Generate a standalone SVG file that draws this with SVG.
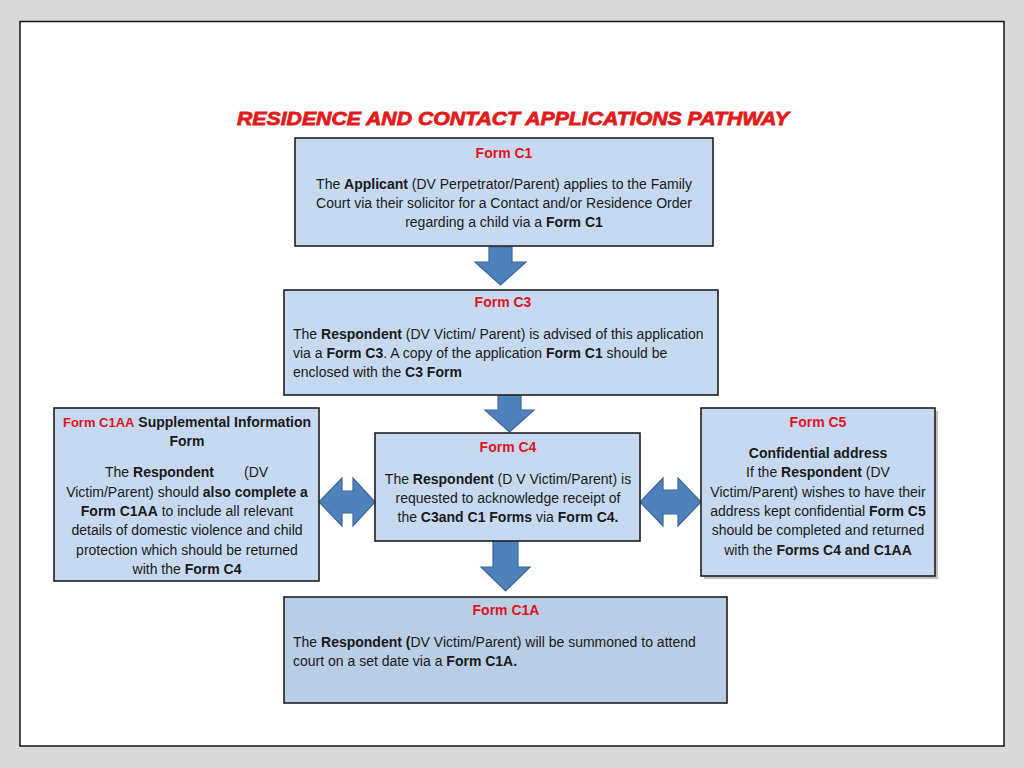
<svg xmlns="http://www.w3.org/2000/svg" width="1024" height="768" viewBox="0 0 1024 768">
<defs>
<style>
.box{fill:#c6d9f0;stroke:#1e1e1e;stroke-width:1.6}
.shadow{fill:#8a8a8a;opacity:0.55}
.arr{fill:#4f81bd;stroke:#3c6698;stroke-width:1.2;stroke-linejoin:miter}
.t{font-family:"Liberation Sans",Arial,sans-serif;font-size:14px;fill:#1a1a1a}
.h{font-family:"Liberation Sans",Arial,sans-serif;font-size:14px;font-weight:bold;fill:#e0141e}
.c{text-anchor:middle}
.b{font-weight:bold}
.r{fill:#e0141e}
</style>
</defs>
<rect x="0" y="0" width="1024" height="768" fill="#d9d9d9"/>
<rect x="20" y="21.5" width="984" height="724.5" fill="#ffffff" stroke="#111" stroke-width="1.5"/>
<text x="513" y="125" text-anchor="middle" font-family="Liberation Sans,Arial,sans-serif" font-size="19" font-weight="bold" font-style="italic" fill="#e31a1c" stroke="#e31a1c" stroke-width="0.8" textLength="552" lengthAdjust="spacingAndGlyphs">RESIDENCE AND CONTACT APPLICATIONS PATHWAY</text>

<g id="connectors">
<polygon class="arr" points="489,247 512,247 512,262 526,262 500.5,285 475,262 489,262"/>
<polygon class="arr" points="498,395 521,395 521,410 534,410 509.5,432 485,410 498,410"/>
<polygon class="arr" points="493,541 518,541 518,567 530,567 505.5,591 481,567 493,567"/>
<polygon class="arr" points="319,502 342,478 342,491 353,491 353,478 375,502 353,526 353,513 342,513 342,526"/>
<polygon class="arr" points="640,502 663,478 663,490 678,490 678,478 701,502 678,526 678,514 663,514 663,526"/>
</g>

<g id="c1">
<rect class="box" x="295" y="138" width="418" height="108"/>
<text class="h c" x="504" y="158">Form C1</text>
<text class="t c" x="504" y="189">The <tspan class="b">Applicant</tspan> (DV Perpetrator/Parent) applies to the Family</text>
<text class="t c" x="504" y="208">Court via their solicitor for a Contact and/or Residence Order</text>
<text class="t c" x="504" y="227">regarding a child via a <tspan class="b">Form C1</tspan></text>
</g>

<g id="c3">
<rect class="box" x="284" y="290" width="434" height="105"/>
<text class="h c" x="503" y="307">Form C3</text>
<text class="t" x="293" y="339">The <tspan class="b">Respondent</tspan> (DV Victim/ Parent) is advised of this application</text>
<text class="t" x="293" y="358">via a <tspan class="b">Form C3</tspan>. A copy of the application <tspan class="b">Form C1</tspan> should be</text>
<text class="t" x="293" y="377">enclosed with the <tspan class="b">C3 Form</tspan></text>
</g>

<g id="c4">
<rect class="box" x="375" y="433" width="265" height="108"/>
<text class="h c" x="508" y="452">Form C4</text>
<text class="t c" x="508" y="484">The <tspan class="b">Respondent</tspan> (D V Victim/Parent) is</text>
<text class="t c" x="508" y="503">requested to acknowledge receipt of</text>
<text class="t c" x="508" y="522">the <tspan class="b">C3and C1 Forms</tspan> via <tspan class="b">Form C4.</tspan></text>
</g>

<g id="c1aa">
<rect class="box" x="54" y="408" width="265" height="173"/>
<text class="t c b" x="187" y="427"><tspan class="r" font-size="13">Form C1AA</tspan> Supplemental Information</text>
<text class="t c b" x="187" y="446">Form</text>
<text class="t" x="105" y="477">The <tspan class="b">Respondent</tspan></text>
<text class="t" x="244" y="477">(DV</text>
<text class="t c" x="187" y="497">Victim/Parent) should <tspan class="b">also complete a</tspan></text>
<text class="t c" x="187" y="516"><tspan class="b">Form C1AA</tspan> to include all relevant</text>
<text class="t c" x="187" y="535">details of domestic violence and child</text>
<text class="t c" x="187" y="555">protection which should be returned</text>
<text class="t c" x="187" y="574">with the <tspan class="b">Form C4</tspan></text>
</g>

<g id="c5">
<rect class="shadow" x="704" y="411" width="234" height="168"/>
<rect class="box" x="701" y="408" width="234" height="168"/>
<text class="h c" x="818" y="427">Form C5</text>
<text class="t c b" x="818" y="458">Confidential address</text>
<text class="t c" x="818" y="477">If the <tspan class="b">Respondent</tspan> (DV</text>
<text class="t c" x="818" y="497">Victim/Parent) wishes to have their</text>
<text class="t c" x="818" y="516">address kept confidential <tspan class="b">Form C5</tspan></text>
<text class="t c" x="818" y="535">should be completed and returned</text>
<text class="t c" x="818" y="555">with the <tspan class="b">Forms C4 and C1AA</tspan></text>
</g>

<g id="c1a">
<rect class="box" x="284" y="597" width="443" height="106" style="fill:#b9cde5"/>
<text class="h c" x="506" y="615">Form C1A</text>
<text class="t" x="293" y="647">The <tspan class="b">Respondent (</tspan>DV Victim/Parent) will be summoned to attend</text>
<text class="t" x="293" y="666">court on a set date via a <tspan class="b">Form C1A.</tspan></text>
</g>
</svg>
